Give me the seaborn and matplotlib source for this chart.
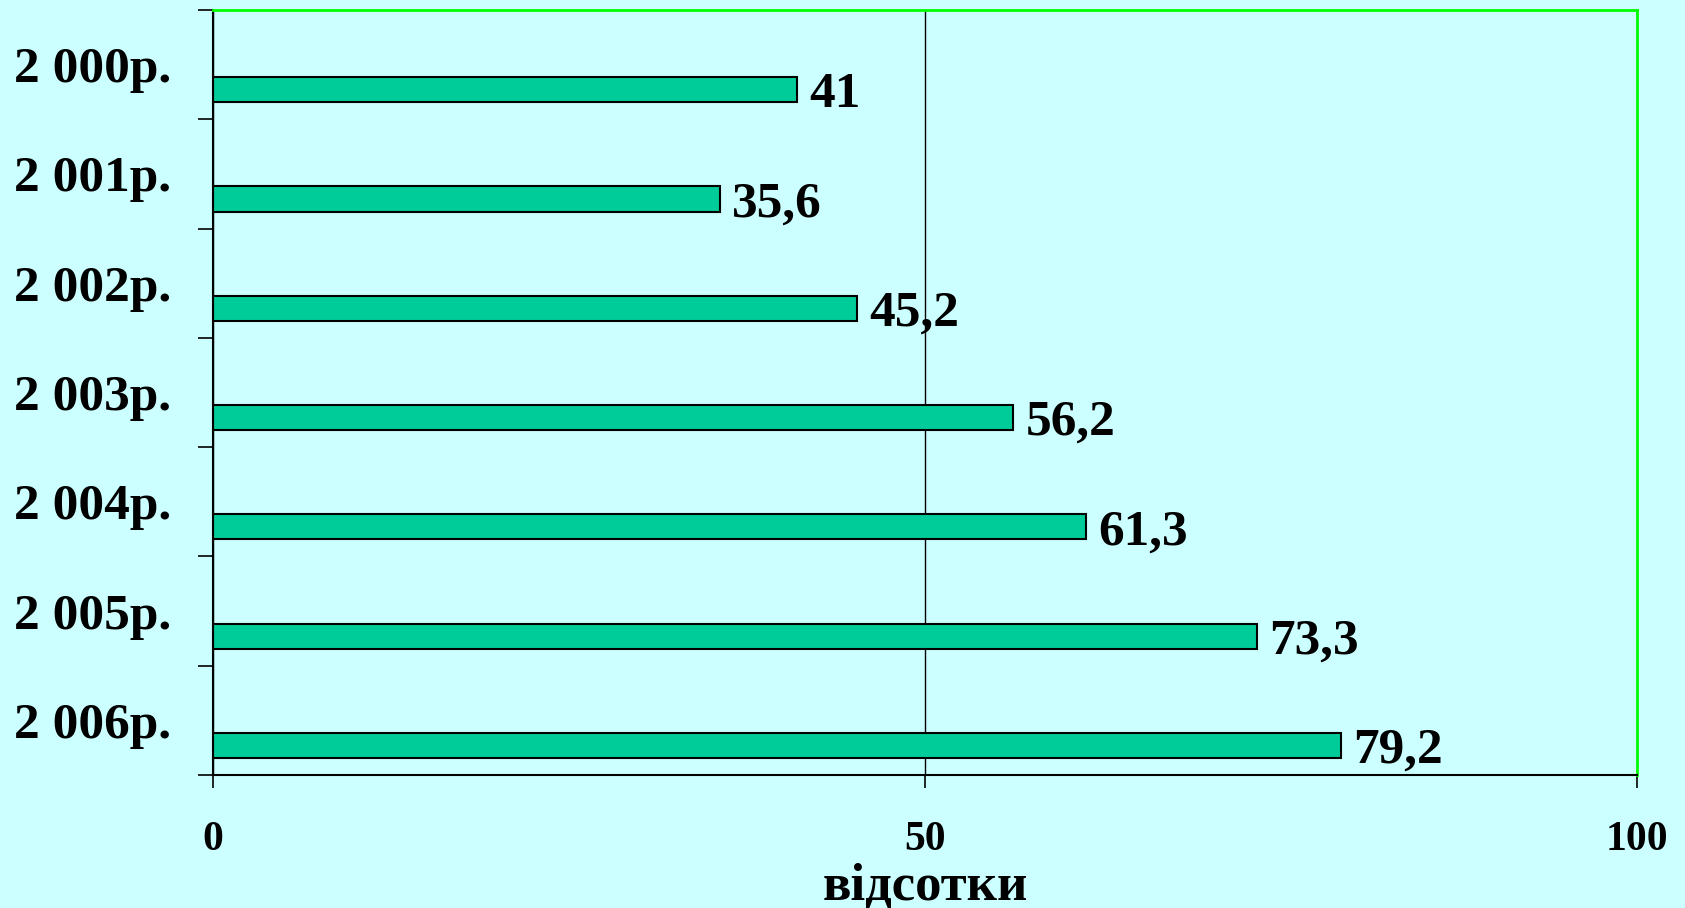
import numpy as np
import pandas as pd
import matplotlib
matplotlib.use('Agg')
import matplotlib.pyplot as plt
import seaborn as sns

# дані з діаграми
years = ['2 000р.', '2 001р.', '2 002р.', '2 003р.', '2 004р.', '2 005р.', '2 006р.']
values = [41, 35.6, 45.2, 56.2, 61.3, 73.3, 79.2]
value_labels = ['41', '35,6', '45,2', '56,2', '61,3', '73,3', '79,2']
x_ticks = [0, 50, 100]

bg = '#CCFFFF'
bar_color = '#00CC99'

sns.set_style('white')
plt.rcParams['font.family'] = ['Liberation Serif', 'DejaVu Serif']
plt.rcParams['font.weight'] = 'bold'
plt.rcParams['text.color'] = 'black'
plt.rcParams['axes.labelcolor'] = 'black'
plt.rcParams['xtick.color'] = 'black'
plt.rcParams['ytick.color'] = 'black'

df = pd.DataFrame({'year': years, 'value': values})

fig = plt.figure(figsize=(16.85, 9.08), dpi=100, facecolor=bg)
ax = fig.add_axes([0.1264, 0.1465, 0.8451, 0.8425])
ax.set_facecolor(bg)

sns.barplot(data=df, x='value', y='year', orient='h', color=bar_color,
            width=0.23, edgecolor='black', linewidth=1.5, saturation=1, ax=ax)

# смуги зсунуті вниз у межах категорії, як у Excel
for p in ax.patches:
    p.set_y(p.get_y() + 0.23)

for p, lab in zip(ax.patches, value_labels):
    ax.annotate(lab, (p.get_x() + p.get_width(), p.get_y() + p.get_height() / 2),
                xytext=(9, 0), textcoords='offset points', color='black',
                ha='left', va='center_baseline', fontsize=37, fontweight='bold')

ax.set_xlim(0, 100)
ax.set_ylim(len(years) - 0.5, -0.5)
ax.set_xticks(x_ticks)
ax.set_xticklabels([str(t) for t in x_ticks], fontsize=30, fontweight='bold')
ax.set_yticks(np.arange(len(years)))
ax.set_yticklabels(years, fontsize=37, fontweight='bold')
ax.set_yticks(np.arange(len(years) + 1) - 0.5, minor=True)

ax.tick_params(axis='y', which='major', length=0, pad=30)
ax.tick_params(axis='y', which='minor', length=11, width=1.2, color='black', direction='out', left=True)
ax.tick_params(axis='x', which='major', length=9, width=1.2, color='black', direction='out', pad=24, bottom=True)

ax.xaxis.grid(True, color='black', linewidth=1)
ax.set_axisbelow(True)

ax.set_xlabel('відсотки', fontsize=38, fontweight='bold', labelpad=3)
ax.set_ylabel('')

for s in ['left', 'bottom']:
    ax.spines[s].set_color('black')
    ax.spines[s].set_linewidth(1.5)
for s in ['top', 'right']:
    ax.spines[s].set_color('#00FF00')
    ax.spines[s].set_linewidth(2)
    ax.spines[s].set_visible(True)

fig.savefig('out.png', dpi=100, facecolor=bg)
